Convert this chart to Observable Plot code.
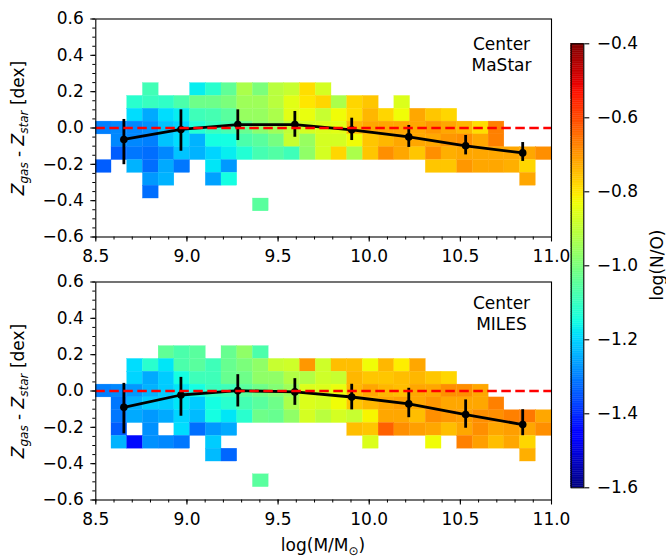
<!DOCTYPE html>
<html>
<head>
<meta charset="utf-8">
<script src="https://cdn.jsdelivr.net/npm/d3@7"></script>
<script src="https://cdn.jsdelivr.net/npm/@observablehq/plot@0.6"></script>
<style>
  html, body { margin: 0; padding: 0; background: white; }
  #wrap { position: relative; width: 666px; height: 558px; font-family: "DejaVu Sans", sans-serif; color: black; }
  #wrap svg { position: absolute; left: 0; }
  .lab { position: absolute; white-space: nowrap; font-size: 17px; line-height: 1; transform: translate(-50%, -50%); }
  .rot { transform: translate(-50%, -50%) rotate(-90deg); }
  .lab sub { font-size: 12px; vertical-align: -4px; }
</style>
</head>
<body>
<div id="wrap"></div>
<script>
(function () {
const _ = null;

// Mass bin edges (29 bins, 8.5 .. 11.0)
const massEdges = [8.5, 8.5862, 8.6724, 8.7586, 8.8448, 8.9310, 9.0172, 9.1034, 9.1897, 9.2759,
  9.3621, 9.4483, 9.5345, 9.6207, 9.7069, 9.7931, 9.8793, 9.9655, 10.0517, 10.1379,
  10.2241, 10.3103, 10.3966, 10.4828, 10.5690, 10.6552, 10.7414, 10.8276, 10.9138, 11.0];
// Z-difference row edges, top to bottom
const zEdges = [0.2471, 0.1765, 0.1059, 0.0353, -0.0353, -0.1059, -0.1765, -0.2471, -0.3176, -0.3882, -0.4588, -0.5294];

// log(N/O) per cell, rows top -> bottom, columns = mass bins
const mastarGrid = [
  [_,_,_,-1.085,_,_,-1.17,-1.12,-1.04,-0.93,-1.0,-0.91,-0.89,-0.79,-0.87,_,_,_,_,_,_,_,_,_,_,_,_,_,_],
  [_,_,-1.12,-1.10,-1.11,-1.07,-1.02,-1.02,-1.0,-0.95,-0.95,-0.91,-0.85,-0.80,-0.78,-0.93,-0.78,-0.76,_,-0.86,_,_,_,_,_,_,_,_,_],
  [_,_,-1.19,-1.25,-1.19,-1.17,-1.09,-1.08,-1.05,-0.96,-0.96,-0.93,-0.85,-0.84,-0.89,-0.83,-0.79,-0.74,-0.78,-0.83,-0.72,-0.76,-0.78,_,_,_,_,_,_],
  [-1.30,-1.29,-1.29,-1.28,-1.22,-1.20,-1.13,-1.10,-1.08,-1.03,-0.98,-0.95,-0.90,-0.87,-0.86,-0.85,-0.74,-0.72,-0.72,-0.72,-0.72,-0.70,-0.72,-0.74,-0.79,-0.67,_,_,_],
  [_,-1.29,-1.29,-1.30,-1.22,-1.19,-1.24,-1.15,-1.15,-1.07,-1.05,-1.01,-0.89,-0.96,-0.87,-0.87,-0.83,-0.76,-0.74,-0.72,-0.72,-0.72,-0.70,-0.69,-0.72,-0.67,_,_,_],
  [_,-1.34,-1.31,-1.32,-1.29,-1.22,-1.24,-1.20,-1.17,-1.13,-1.08,-1.06,-1.09,-0.97,-0.87,-0.78,-0.93,-0.76,-0.69,-0.72,-0.76,-0.69,-0.73,-0.72,-0.72,-0.72,-0.72,-0.72,-0.69],
  [-1.34,_,-1.24,-1.32,-1.25,-1.31,_,-1.18,-1.27,_,_,_,_,_,_,_,_,_,_,_,_,-0.76,-0.76,-0.70,-0.72,-0.72,-0.73,-0.78,_],
  [_,_,_,-1.27,-1.24,_,_,-1.26,-1.15,_,_,_,_,_,_,_,_,_,_,_,_,_,_,_,_,_,_,-0.72,_],
  [_,_,_,-1.32,_,_,_,_,_,_,_,_,_,_,_,_,_,_,_,_,_,_,_,_,_,_,_,_,_],
  [_,_,_,_,_,_,_,_,_,_,-1.05,_,_,_,_,_,_,_,_,_,_,_,_,_,_,_,_,_,_],
  [_,_,_,_,_,_,_,_,_,_,_,_,_,_,_,_,_,_,_,_,_,_,_,_,_,_,_,_,_]
];
const milesGrid = [
  [_,_,_,_,-1.04,-1.07,-1.05,_,-1.03,-0.97,-1.07,_,_,_,_,_,_,_,_,_,_,_,_,_,_,_,_,_,_],
  [_,_,-1.19,-1.12,-1.18,-1.07,-1.05,-1.09,-1.03,-1.0,-0.97,-0.89,-0.88,-0.70,-0.88,-0.75,-0.75,-0.83,-0.74,-0.81,-0.72,_,_,_,_,_,_,_,_],
  [_,_,-1.20,-1.25,-1.21,-1.15,-1.09,-1.09,-1.03,-1.02,-0.97,-0.97,-0.92,-0.92,-0.88,-0.89,-0.74,-0.76,-0.76,-0.75,-0.74,-0.76,-0.78,_,_,_,_,_,_],
  [-1.30,-1.29,-1.27,-1.24,-1.21,-1.18,-1.15,-1.10,-1.09,-1.05,-1.02,-0.99,-0.95,-0.86,-0.86,-0.84,-0.74,-0.72,-0.74,-0.75,-0.72,-0.72,-0.69,-0.69,-0.72,_,_,_,_],
  [_,-1.31,-1.24,-1.21,-1.21,-1.18,-1.21,-1.15,-1.12,-1.08,-1.05,-1.02,-0.93,-0.86,-0.87,-0.83,-0.76,-0.74,-0.72,-0.71,-0.72,-0.70,-0.72,-0.72,-0.72,-0.67,_,_,_],
  [_,-1.31,-1.25,-1.27,-1.25,-1.20,-1.23,-1.15,-1.18,-1.12,-1.02,-1.03,-0.97,-0.87,-0.91,-0.87,-0.89,-0.82,-0.72,-0.72,-0.75,-0.69,-0.70,-0.71,-0.69,-0.69,-0.67,-0.66,-0.72],
  [_,-1.34,_,-1.28,_,-1.19,-1.32,-1.27,-1.25,_,_,_,_,_,_,_,-0.75,-0.76,-0.63,-0.69,-0.71,-0.72,-0.75,-0.72,-0.69,-0.72,-0.71,-0.72,-0.69],
  [_,-1.24,-1.44,-1.28,-1.29,-1.31,_,-1.21,_,_,_,_,_,_,_,_,_,-0.86,_,_,_,-0.83,_,-0.67,-0.71,-0.75,-0.72,-0.78,_],
  [_,_,_,_,_,_,_,-1.23,-1.33,_,_,_,_,_,_,_,_,_,_,_,_,_,_,_,_,_,_,-0.73,_],
  [_,_,_,_,_,_,_,_,_,_,_,_,_,_,_,_,_,_,_,_,_,_,_,_,_,_,_,_,_],
  [_,_,_,_,_,_,_,_,_,_,-1.05,_,_,_,_,_,_,_,_,_,_,_,_,_,_,_,_,_,_]
];

// Binned medians with error bars
const binMass   = [8.654, 8.967, 9.279, 9.592, 9.904, 10.217, 10.529, 10.842];
const mastarMed = [-0.063, -0.008, 0.019, 0.019, -0.010, -0.049, -0.098, -0.137];
const mastarLo  = [-0.202, -0.128, -0.069, -0.051, -0.069, -0.107, -0.148, -0.184];
const mastarHi  = [0.047, 0.100, 0.100, 0.091, 0.054, 0.014, -0.041, -0.080];
const milesMed  = [-0.090, -0.022, 0.002, -0.005, -0.033, -0.071, -0.130, -0.185];
const milesLo   = [-0.236, -0.139, -0.088, -0.079, -0.104, -0.147, -0.205, -0.246];
const milesHi   = [0.042, 0.075, 0.090, 0.068, 0.037, 0.015, -0.049, -0.103];

// Axis ticks
const xTicks = [8.5, 9.0, 9.5, 10.0, 10.5, 11.0];
const yTicks = [-0.6, -0.4, -0.2, 0.0, 0.2, 0.4, 0.6];
const cbTicks = [-1.6, -1.4, -1.2, -1.0, -0.8, -0.6, -0.4];
const cbDomain = [-1.6, -0.4];

function jet(t) {
  t = Math.max(0, Math.min(1, t));
  const f = (pts) => {
    for (let i = 1; i < pts.length; i++) {
      if (t <= pts[i][0]) {
        const [t0, v0] = pts[i - 1], [t1, v1] = pts[i];
        return v0 + (v1 - v0) * (t - t0) / (t1 - t0);
      }
    }
    return pts[pts.length - 1][1];
  };
  const r = f([[0,0],[0.35,0],[0.66,1],[0.89,1],[1,0.5]]);
  const g = f([[0,0],[0.125,0],[0.375,1],[0.64,1],[0.91,0],[1,0]]);
  const b = f([[0,0.5],[0.11,1],[0.34,1],[0.65,0],[1,0]]);
  return `rgb(${Math.round(r*255)},${Math.round(g*255)},${Math.round(b*255)})`;
}
const colorScale = {type: "linear", domain: cbDomain, interpolate: jet, clamp: true};

const fmt = d3.format(".1f");
const minorX = d3.range(85, 111, 1).map(d => d / 10);
const minorY = d3.range(-12, 13, 1).map(d => d / 20);
const style = {background: "transparent", fontFamily: "DejaVu Sans", fontSize: "17px", color: "black", overflow: "visible"};

function cellsOf(grid) {
  const out = [];
  grid.forEach((row, i) => row.forEach((v, j) => {
    if (v != null) out.push({x1: massEdges[j], x2: massEdges[j + 1], y1: zEdges[i + 1], y2: zEdges[i], v});
  }));
  return out;
}

function panel(grid, med, lo, hi, label, h, mt, mb, textDy) {
  const pts = binMass.map((m, i) => ({m, y: med[i], lo: lo[i], hi: hi[i]}));
  return Plot.plot({
    width: 666, height: h,
    marginLeft: 95.3, marginRight: 115, marginTop: mt, marginBottom: mb,
    style,
    x: {domain: [8.5, 11]},
    y: {domain: [-0.6, 0.6]},
    color: colorScale,
    marks: [
      Plot.rect(cellsOf(grid), {x1: "x1", x2: "x2", y1: "y1", y2: "y2", fill: "v", stroke: "v", strokeWidth: 0.3}),
      Plot.line(pts, {x: "m", y: "y", stroke: "black", strokeWidth: 2.8}),
      Plot.ruleX(pts, {x: "m", y1: "lo", y2: "hi", stroke: "black", strokeWidth: 2.8}),
      Plot.dot(pts, {x: "m", y: "y", r: 3.8, fill: "black", stroke: "none"}),
      Plot.ruleY([0], {stroke: "#ff0000", strokeWidth: 2.6, strokeDasharray: "9.5,4.5"}),
      Plot.text([label], {frameAnchor: "top-right", dx: -50, dy: textDy, textAnchor: "middle", lineAnchor: "middle", lineHeight: 1.24, fontSize: 17, fill: "black"}),
      Plot.frame({stroke: "black", strokeWidth: 1.1}),
      Plot.axisX({ticks: minorX, tickSize: 3, tickFormat: () => "", label: null, strokeWidth: 1}),
      Plot.axisX({ticks: xTicks, tickSize: 5, tickPadding: 8, tickFormat: fmt, label: null, strokeWidth: 1.1, fontSize: 17}),
      Plot.axisY({ticks: minorY, tickSize: 3, tickFormat: () => "", label: null, strokeWidth: 1}),
      Plot.axisY({ticks: yTicks, tickSize: 5, tickPadding: 7, tickFormat: fmt, label: null, strokeWidth: 1.1, fontSize: 17})
    ]
  });
}

const wrap = document.getElementById("wrap");

const topPanel = panel(mastarGrid, mastarMed, mastarLo, mastarHi, "Center\nMaStar", 270, 18.5, 33.5, 35);
topPanel.style.top = "0px";
wrap.appendChild(topPanel);

const botPanel = panel(milesGrid, milesMed, milesLo, milesHi, "Center\nMILES", 296, 19.5, 58.5, 31);
botPanel.style.top = "262px";
wrap.appendChild(botPanel);

// Colorbar
const step = 0.005;
const bands = d3.range(0, 240).map(i => cbDomain[0] + i * step);
const cb = Plot.plot({
  width: 666, height: 558,
  marginLeft: 570.7, marginRight: 82.7, marginTop: 43.3, marginBottom: 70.7,
  style,
  y: {domain: cbDomain},
  color: colorScale,
  marks: [
    Plot.rect(bands, {y1: d => d, y2: d => d + step, fill: d => d + step / 2, stroke: d => d + step / 2, strokeWidth: 0.4}),
    Plot.frame({stroke: "black", strokeWidth: 1.1}),
    Plot.axisY({anchor: "right", ticks: cbTicks, tickSize: 5, tickPadding: 8, tickFormat: fmt, label: null, strokeWidth: 1.1, fontSize: 17})
  ]
});
cb.style.top = "0px";
wrap.appendChild(cb);

// HTML labels (with sub/superscripts)
function addLabel(html, x, y, rot) {
  const d = document.createElement("div");
  d.className = "lab" + (rot ? " rot" : "");
  d.style.left = x + "px";
  d.style.top = y + "px";
  d.innerHTML = html;
  wrap.appendChild(d);
}
const yLabel = "<i>Z</i><sub><i>gas</i></sub> - <i>Z</i><sub><i>star</i></sub> [dex]";
addLabel(yLabel, 20, 127.5, true);
addLabel(yLabel, 20, 390.5, true);
addLabel("log(M/M<sub>⊙</sub>)", 323, 547, false);
addLabel("log(N/O)", 657, 265, true);
})();
</script>
</body>
</html>
